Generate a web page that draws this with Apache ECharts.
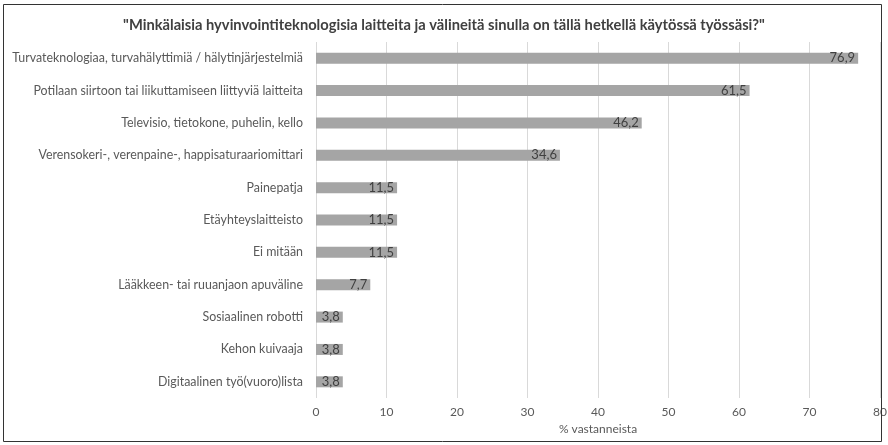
<!DOCTYPE html>
<html><head><meta charset="utf-8">
<script src="https://cdn.jsdelivr.net/npm/echarts@6/dist/echarts.min.js"></script>
<style>html,body{margin:0;padding:0;background:#fff}#c{width:888px;height:445px}</style>
</head><body><div id="c"></div>
<script>
const titleText = '"Minkälaisia hyvinvointiteknologisia laitteita ja välineitä sinulla on tällä hetkellä käytössä työssäsi?"';
const categories = [
  'Turvateknologiaa, turvahälyttimiä / hälytinjärjestelmiä',
  'Potilaan siirtoon tai liikuttamiseen liittyviä laitteita',
  'Televisio, tietokone, puhelin, kello',
  'Verensokeri-, verenpaine-, happisaturaariomittari',
  'Painepatja',
  'Etäyhteyslaitteisto',
  'Ei mitään',
  'Lääkkeen- tai ruuanjaon apuväline',
  'Sosiaalinen robotti',
  'Kehon kuivaaja',
  'Digitaalinen työ(vuoro)lista'
];
const values = [76.9, 61.5, 46.2, 34.6, 11.5, 11.5, 11.5, 7.7, 3.8, 3.8, 3.8];
const xAxisName = '% vastanneista';
const xMin = 0, xMax = 80, xInterval = 10;

const chart = echarts.init(document.getElementById('c'));
chart.setOption({
  animation: false,
  textStyle: { fontFamily: 'Lato' },
  title: {
    text: titleText, left: 'center', top: 13,
    textStyle: { fontSize: 14.7, fontWeight: 'bold', color: '#404040', fontFamily: 'Lato' }
  },
  graphic: [{
    type: 'rect', shape: { x: 3.5, y: 4.5, width: 878, height: 437 },
    style: { fill: 'none', stroke: '#333', lineWidth: 1 }, silent: true, z: 100
  }],
  grid: { left: 316, right: 8, top: 42, bottom: 47, outerBoundsMode: 'none', containLabel: false },
  xAxis: {
    type: 'value', min: xMin, max: xMax, interval: xInterval,
    name: xAxisName, nameLocation: 'middle', nameGap: 21,
    nameTextStyle: { color: '#595959', fontSize: 12 },
    axisLine: { show: false }, axisTick: { show: false },
    axisLabel: { color: '#595959', fontSize: 12, margin: 8 },
    splitLine: { lineStyle: { color: '#d9d9d9' } }
  },
  yAxis: {
    type: 'category', data: categories, inverse: true,
    axisLine: { show: false }, axisTick: { show: false },
    axisLabel: { color: '#595959', fontSize: 12.4, margin: 13 }
  },
  series: [{
    type: 'bar', data: values, barWidth: 11,
    itemStyle: { color: '#a5a5a5' },
    label: {
      show: true, position: 'insideRight', distance: 3,
      color: '#404040', fontSize: 13,
      formatter: p => String(p.value).replace('.', ',')
    }
  }]
});
</script></body></html>
